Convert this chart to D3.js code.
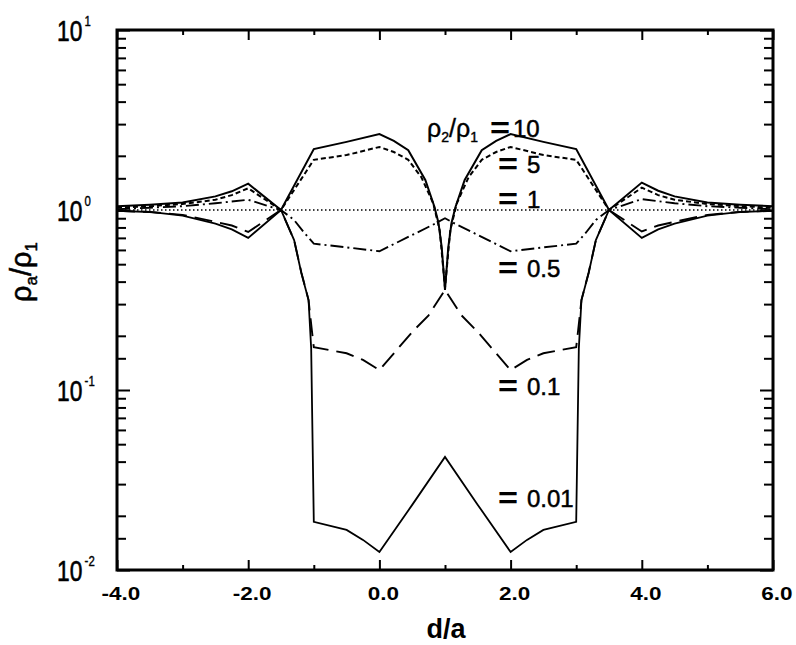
<!DOCTYPE html>
<html>
<head>
<meta charset="utf-8">
<script src="https://cdn.jsdelivr.net/npm/d3@7"></script>
<style>
  body { margin: 0; background: #fff; }
  svg { display: block; font-family: "Liberation Sans", Arial, sans-serif; }
</style>
</head>
<body>
<svg id="chart" width="796" height="645"></svg>
<script>
/*global d3*/
// apparent resistivity ratio rho_a/rho_1 against d/a, one curve per rho_2/rho_1
// each curve is a list of [d/a, rho_a/rho_1]

var rho10 = [
  [-4, 1.05], [-3.5, 1.07], [-3, 1.10], [-2.5, 1.19], [-2.25, 1.27], [-2, 1.40],
  [-1.5, 1.00], [-1, 2.18], [-0.5, 2.39], [0, 2.64], [0.22, 2.42], [0.44, 2.15],
  [0.7, 1.47], [0.84, 1.04], [0.9, 0.85], [0.95, 0.62], [1, 0.36],
  [1.05, 0.62], [1.1, 0.85], [1.16, 1.04], [1.3, 1.47], [1.56, 2.15], [1.78, 2.42],
  [2, 2.64], [2.5, 2.39], [3, 2.18], [3.5, 1.00], [4, 1.42], [4.25, 1.28],
  [4.5, 1.19], [5, 1.10], [5.5, 1.07], [6, 1.05]
];

var rho5 = [
  [-4, 1.03], [-3.5, 1.05], [-3, 1.08], [-2.5, 1.14], [-2.25, 1.21], [-2, 1.32],
  [-1.5, 1.00], [-1, 1.90], [-0.5, 2.02], [0, 2.24], [0.22, 2.10], [0.44, 1.90],
  [0.64, 1.52], [0.82, 1.09], [0.92, 0.77], [1, 0.37],
  [1.08, 0.77], [1.18, 1.09], [1.36, 1.52], [1.56, 1.90], [1.78, 2.10], [2, 2.24],
  [2.5, 2.02], [3, 1.90], [3.5, 1.00], [4, 1.33], [4.25, 1.21], [4.5, 1.14],
  [5, 1.08], [5.5, 1.05], [6, 1.03]
];

var rho1 = [[-4, 1], [6, 1]];

var rho05 = [
  [-4, 1.01], [-3.5, 1.03], [-3, 1.05], [-2.5, 1.09], [-2, 1.14], [-1.5, 1.00],
  [-1.3, 0.88], [-1.15, 0.75], [-1, 0.65], [-0.5, 0.62], [0, 0.59], [0.85, 0.84],
  [1, 0.90], [1.15, 0.84], [2, 0.59], [2.5, 0.62], [3, 0.65], [3.15, 0.75],
  [3.3, 0.88], [3.5, 1.00], [4, 1.15], [4.5, 1.09], [5, 1.05], [5.5, 1.03], [6, 1.01]
];

var rho01 = [
  [-4, 0.99], [-3.5, 0.975], [-3, 0.94], [-2.5, 0.86], [-2.25, 0.82], [-2, 0.755],
  [-1.5, 1.00], [-1.3, 0.68], [-1.19, 0.45], [-1.08, 0.316], [-1.03, 0.215], [-1, 0.173],
  [-0.5, 0.16], [-0.25, 0.147], [0, 0.129], [0.5, 0.21], [0.75, 0.26], [1, 0.36],
  [1.25, 0.26], [1.5, 0.21], [2, 0.129], [2.25, 0.147], [2.5, 0.16], [3, 0.173],
  [3.03, 0.215], [3.08, 0.316], [3.19, 0.45], [3.3, 0.68], [3.5, 1.00], [4, 0.76],
  [4.25, 0.82], [4.5, 0.86], [5, 0.94], [5.5, 0.975], [6, 0.99]
];

var rho001 = [
  [-4, 0.99], [-3.5, 0.975], [-3, 0.93], [-2.5, 0.84], [-2.25, 0.78], [-2, 0.70],
  [-1.5, 1.00], [-1.3, 0.68], [-1.19, 0.447], [-1.08, 0.316], [-1.04, 0.17], [-1, 0.0185],
  [-0.5, 0.0167], [-0.25, 0.0147], [0, 0.0126], [0.5, 0.023], [1, 0.0425],
  [1.5, 0.023], [2, 0.0126], [2.25, 0.0147], [2.5, 0.0167], [3, 0.0185], [3.04, 0.17],
  [3.08, 0.316], [3.19, 0.447], [3.3, 0.68], [3.5, 1.00], [4, 0.70], [4.25, 0.78],
  [4.5, 0.84], [5, 0.93], [5.5, 0.975], [6, 0.99]
];

var curveLabels = ["10", "5", "1", "0.5", "0.1", "0.01"];
var xMajor = [-4, -2, 0, 2, 4, 6];
var xMinor = [-3, -1, 1, 3, 5];
var xTickLabels = ["-4.0", "-2.0", "0.0", "2.0", "4.0", "6.0"];
var yDecades = [0.01, 0.1, 1, 10];
var yExponents = ["-2", "-1", "0", "1"];
var yMinorSteps = [1.5, 2, 3, 4, 5, 6, 7, 8, 9];

(function () {
  "use strict";

  var svg = d3.select("#chart"),
    left = 117, right = 773, top = 30, bottom = 570,
    x = d3.scaleLinear().domain([-4, 6]).range([left, right]),
    y = d3.scaleLog().domain([0.01, 10]).range([bottom, top]),
    yMinor = [],
    line = d3.line()
      .x(function (d) { return x(d[0]); })
      .y(function (d) { return y(d[1]); }),

    // widen a text to mimic the spread lettering of the scan
    stretch = function (sel, factor) {
      sel.each(function () {
        var w = this.getComputedTextLength();
        d3.select(this)
          .attr("textLength", w * factor)
          .attr("lengthAdjust", "spacingAndGlyphs");
      });
    },

    ticks = function (axisFn, values, size, transform) {
      var g = svg.append("g")
        .attr("transform", transform)
        .call(axisFn.tickValues(values).tickSize(size).tickFormat(""));
      g.select(".domain").remove();
      g.selectAll("line").attr("stroke", "#000").attr("stroke-width", 2);
    };

  yDecades.slice(0, 3).forEach(function (d) {
    yMinorSteps.forEach(function (s) {
      yMinor.push(d * s);
    });
  });

  // curves
  var series = [
    { pts: rho10, dash: null, w: 2 },
    { pts: rho5, dash: "5,3", w: 2 },
    { pts: rho1, dash: "1.5,2.5", w: 1.3 },
    { pts: rho05, dash: "13,4,2,4", w: 1.9 },
    { pts: rho01, dash: "18,8", w: 1.9 },
    { pts: rho001, dash: null, w: 1.8 }
  ];

  svg.append("g").selectAll("path")
    .data(series)
    .enter()
    .append("path")
    .attr("d", function (d) { return line(d.pts); })
    .attr("fill", "none")
    .attr("stroke", "#000")
    .attr("stroke-width", function (d) { return d.w; })
    .attr("stroke-linejoin", "miter")
    .attr("stroke-dasharray", function (d) { return d.dash; });

  // ticks, all pointing into the frame
  ticks(d3.axisBottom(x), xMajor, -10, "translate(0," + bottom + ")");
  ticks(d3.axisBottom(x), xMinor, -5, "translate(0," + bottom + ")");
  ticks(d3.axisTop(x), xMajor, -10, "translate(0," + top + ")");
  ticks(d3.axisTop(x), xMinor, -5, "translate(0," + top + ")");
  ticks(d3.axisLeft(y), yDecades, -13, "translate(" + left + ",0)");
  ticks(d3.axisLeft(y), yMinor, -9, "translate(" + left + ",0)");
  ticks(d3.axisRight(y), yDecades, -13, "translate(" + right + ",0)");
  ticks(d3.axisRight(y), yMinor, -9, "translate(" + right + ",0)");

  svg.append("rect")
    .attr("x", left).attr("y", top)
    .attr("width", right - left).attr("height", bottom - top)
    .attr("fill", "none").attr("stroke", "#000").attr("stroke-width", 3);

  // x tick labels
  var xl = svg.append("g").selectAll("text")
    .data(xMajor)
    .enter()
    .append("text")
    .attr("x", function (d) { return x(d) + 4; })
    .attr("y", 600)
    .attr("text-anchor", "middle")
    .attr("font-size", 18)
    .attr("font-weight", "bold")
    .text(function (d, i) { return xTickLabels[i]; });
  stretch(xl, 1.25);

  // y tick labels: 10 with a raised exponent, narrow lettering
  yDecades.forEach(function (d, i) {
    var t = svg.append("g")
      .attr("transform", "translate(57," + (y(d) + 11) + ") scale(0.76,1)")
      .append("text")
      .attr("font-size", 30)
      .attr("stroke", "#000").attr("stroke-width", 0.6)
      .text("10");
    t.append("tspan")
      .attr("dx", 3)
      .attr("dy", -15)
      .attr("font-size", 15)
      .attr("stroke-width", 0.4)
      .text(yExponents[i]);
  });

  // axis titles
  svg.append("text")
    .attr("x", 446).attr("y", 638)
    .attr("text-anchor", "middle")
    .attr("font-size", 27)
    .attr("font-weight", "bold")
    .text("d/a");

  var yt = svg.append("text")
    .attr("transform", "translate(31,272) rotate(-90)")
    .attr("text-anchor", "middle")
    .attr("font-size", 29)
    .attr("stroke", "#000").attr("stroke-width", 0.5);
  yt.append("tspan").text("\u03c1");
  yt.append("tspan").attr("font-size", 17).attr("dy", 6).text("a");
  yt.append("tspan").attr("dy", -6).text("/\u03c1");
  yt.append("tspan").attr("font-size", 17).attr("dy", 6).text("1");

  // curve annotations
  var lt = svg.append("text")
    .attr("x", 427).attr("y", 137)
    .attr("font-size", 25)
    .attr("stroke", "#000").attr("stroke-width", 0.4);
  lt.append("tspan").text("\u03c1");
  lt.append("tspan").attr("font-size", 14).attr("dy", 5).text("2");
  lt.append("tspan").attr("dy", -5).text("/\u03c1");
  lt.append("tspan").attr("font-size", 14).attr("dy", 5).text("1");

  var rowY = [137, 173, 208, 277, 395, 507],
    eqX = [490, 498, 498, 498, 498, 498],
    valX = [513, 527, 527, 527, 527, 527];

  curveLabels.forEach(function (lab, i) {
    var eq = svg.append("text")
      .attr("x", eqX[i]).attr("y", rowY[i] + 1)
      .attr("font-size", 30)
      .attr("font-weight", "bold")
      .text("=");
    eq.attr("textLength", 20).attr("lengthAdjust", "spacingAndGlyphs");
    svg.append("text")
      .attr("x", valX[i]).attr("y", rowY[i])
      .attr("font-size", 24)
      .attr("stroke", "#000").attr("stroke-width", 0.5)
      .text(lab);
  });
}());
</script>
</body>
</html>
